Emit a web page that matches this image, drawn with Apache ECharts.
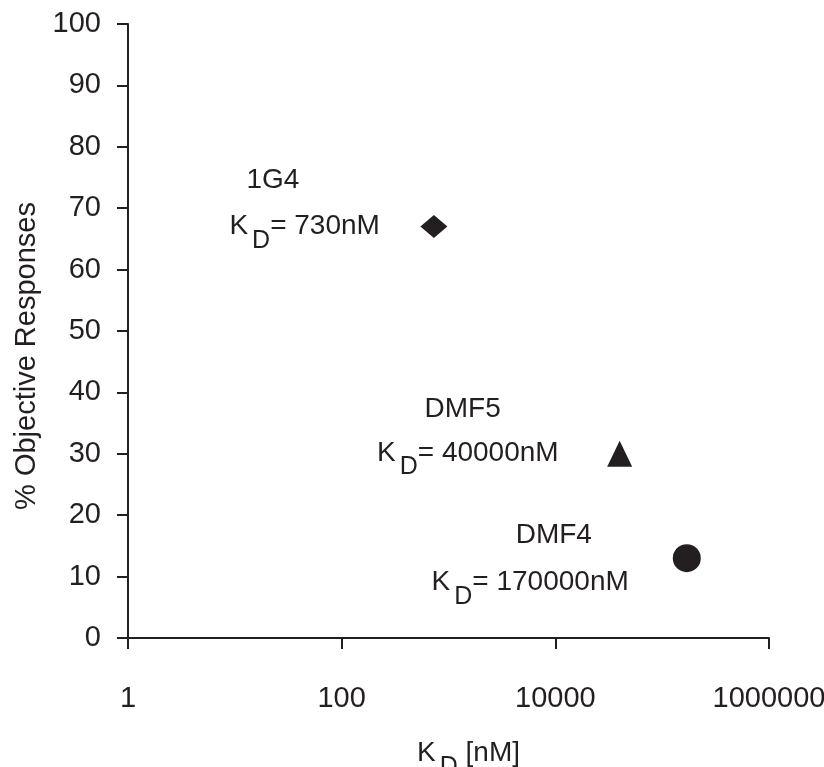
<!DOCTYPE html>
<html>
<head>
<meta charset="utf-8">
<script src="https://cdn.jsdelivr.net/npm/echarts@6/dist/echarts.min.js"></script>
<style>
html,body{margin:0;padding:0;background:#fff;overflow:hidden;}
#chart{width:824px;height:767px;}
</style>
</head>
<body>
<div id="chart"></div>
<script>
// ---- data ----
const names = ['1G4', 'DMF5', 'DMF4'];
const kdValues = [730, 40000, 170000];
const responses = [67, 30, 13];
const symbols = ['diamond', 'triangle', 'circle'];
const xTickValues = [1, 100, 10000, 1000000];
const yTickValues = [0, 10, 20, 30, 40, 50, 60, 70, 80, 90, 100];

// ---- styles (not data) ----
const FONT = 'Liberation Sans, Arial, sans-serif';
const FS = 28;
const INK = '#231f20';
const symbolSizes = [[27, 23], [25, 26], [28, 28]];
const nameOffsets = [[-161, -46], [-157, -45], [-133, -23]];
const kdOffsets = [[-54, -14], [-61, -15], [-58, 10]];

const rich = {
  a: { fontSize: FS, fontFamily: FONT, color: INK, lineHeight: 30, verticalAlign: 'top', textBorderWidth: 0 },
  d: { fontSize: 25, fontFamily: FONT, color: INK, lineHeight: 30, verticalAlign: 'top', padding: [16, 0, 0, 4], textBorderWidth: 0 },
  n: { fontSize: FS, fontFamily: FONT, color: INK, textBorderWidth: 0 }
};

const pointData = kdValues.map((v, i) => ({
  value: [v, responses[i]],
  symbol: symbols[i],
  symbolSize: symbolSizes[i],
  label: {
    show: true,
    position: 'inside',
    align: 'right',
    verticalAlign: 'top',
    offset: kdOffsets[i],
    formatter: '{a|K}{d|D}{a|= ' + kdValues[i] + 'nM}',
    color: INK,
    textBorderWidth: 0,
    textBorderColor: 'transparent',
    rich: rich
  }
}));

const nameData = kdValues.map((v, i) => ({
  value: [v, responses[i]],
  label: {
    show: true,
    position: 'inside',
    align: 'center',
    verticalAlign: 'middle',
    offset: nameOffsets[i],
    formatter: '{n|' + names[i] + '}',
    color: INK,
    opacity: 1,
    textBorderWidth: 0,
    textBorderColor: 'transparent',
    rich: rich
  }
}));

const chart = echarts.init(document.getElementById('chart'), null, { renderer: 'canvas' });
chart.setOption({
  animation: false,
  backgroundColor: '#fff',
  grid: { left: 128, right: 55, top: 24, bottom: 129, containLabel: false, outerBoundsMode: 'none' },
  xAxis: {
    type: 'log',
    logBase: 100,
    min: xTickValues[0],
    max: xTickValues[xTickValues.length - 1],
    name: '{a|K}{d|D}{a| [nM]}',
    nameLocation: 'middle',
    nameGap: 101,
    nameTextStyle: { rich: rich, verticalAlign: 'top', padding: [0, 0, 0, 40] },
    axisLine: { lineStyle: { color: INK, width: 2 } },
    axisTick: { show: true, length: 11, inside: false, lineStyle: { color: INK, width: 2 } },
    axisLabel: {
      margin: 46,
      fontSize: 29,
      fontFamily: FONT,
      color: INK,
      formatter: function (v) { return String(Math.round(v)); }
    },
    splitLine: { show: false },
    minorTick: { show: false }
  },
  yAxis: {
    type: 'value',
    min: yTickValues[0],
    max: yTickValues[yTickValues.length - 1],
    interval: 10,
    name: '% Objective Responses',
    nameLocation: 'middle',
    nameGap: 84,
    nameRotate: 90,
    nameTextStyle: { fontSize: 29, fontFamily: FONT, color: INK, padding: [0, 50, 0, 0] },
    axisLine: { show: true, lineStyle: { color: INK, width: 2 } },
    axisTick: { show: true, length: 11, inside: false, lineStyle: { color: INK, width: 2 } },
    axisLabel: { margin: 27, fontSize: 29, fontFamily: FONT, color: INK },
    splitLine: { show: false }
  },
  series: [
    {
      type: 'scatter',
      name: 'names',
      data: nameData,
      symbol: 'circle',
      symbolSize: 1,
      itemStyle: { color: '#ffffff', opacity: 0 },
      emphasis: { disabled: true },
      silent: true,
      z: 1
    },
    {
      type: 'scatter',
      name: 'points',
      data: pointData,
      itemStyle: { color: INK, opacity: 1 },
      emphasis: { disabled: true },
      z: 3
    }
  ]
});
</script>
</body>
</html>
